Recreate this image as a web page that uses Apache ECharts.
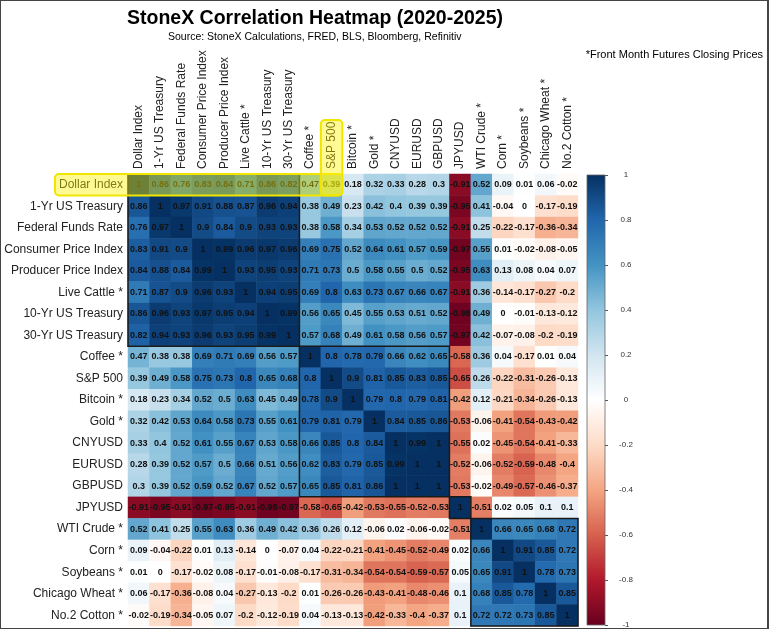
<!DOCTYPE html>
<html>
<head>
<meta charset="utf-8">
<script src="https://cdn.jsdelivr.net/npm/echarts@6/dist/echarts.min.js"></script>
<style>
  html, body { margin: 0; padding: 0; background: #fff; }
  #wrap { position: relative; width: 770px; height: 629px; }
  #chart { width: 770px; height: 629px; }
  #frame { position: absolute; left: 0; top: 0; width: 769px; height: 629px; box-sizing: border-box;
           border: 1px solid #444; border-right-width: 2px; pointer-events: none; }
</style>
</head>
<body>
<div id="wrap"><div id="chart"></div><div id="frame"></div></div>
<script>
// assets, same order on both axes
const labels = ['Dollar Index', '1-Yr US Treasury', 'Federal Funds Rate', 'Consumer Price Index',
  'Producer Price Index', 'Live Cattle *', '10-Yr US Treasury', '30-Yr US Treasury', 'Coffee *',
  'S&P 500', 'Bitcoin *', 'Gold *', 'CNYUSD', 'EURUSD', 'GBPUSD', 'JPYUSD', 'WTI Crude *',
  'Corn *', 'Soybeans *', 'Chicago Wheat *', 'No.2 Cotton *'];

// correlation matrix, one row per asset
const corrRows = [
  [1, 0.86, 0.76, 0.83, 0.84, 0.71, 0.86, 0.82, 0.47, 0.39, 0.18, 0.32, 0.33, 0.28, 0.3, -0.91, 0.52, 0.09, 0.01, 0.06, -0.02],
  [0.86, 1, 0.97, 0.91, 0.88, 0.87, 0.96, 0.94, 0.38, 0.49, 0.23, 0.42, 0.4, 0.39, 0.39, -0.95, 0.41, -0.04, 0, -0.17, -0.19],
  [0.76, 0.97, 1, 0.9, 0.84, 0.9, 0.93, 0.93, 0.38, 0.58, 0.34, 0.53, 0.52, 0.52, 0.52, -0.91, 0.25, -0.22, -0.17, -0.36, -0.34],
  [0.83, 0.91, 0.9, 1, 0.99, 0.96, 0.97, 0.96, 0.69, 0.75, 0.52, 0.64, 0.61, 0.57, 0.59, -0.97, 0.55, 0.01, -0.02, -0.08, -0.05],
  [0.84, 0.88, 0.84, 0.99, 1, 0.93, 0.95, 0.93, 0.71, 0.73, 0.5, 0.58, 0.55, 0.5, 0.52, -0.95, 0.63, 0.13, 0.08, 0.04, 0.07],
  [0.71, 0.87, 0.9, 0.96, 0.93, 1, 0.94, 0.95, 0.69, 0.8, 0.63, 0.73, 0.67, 0.66, 0.67, -0.91, 0.36, -0.14, -0.17, -0.27, -0.2],
  [0.86, 0.96, 0.93, 0.97, 0.95, 0.94, 1, 0.99, 0.56, 0.65, 0.45, 0.55, 0.53, 0.51, 0.52, -0.98, 0.49, 0, -0.01, -0.13, -0.12],
  [0.82, 0.94, 0.93, 0.96, 0.93, 0.95, 0.99, 1, 0.57, 0.68, 0.49, 0.61, 0.58, 0.56, 0.57, -0.97, 0.42, -0.07, -0.08, -0.2, -0.19],
  [0.47, 0.38, 0.38, 0.69, 0.71, 0.69, 0.56, 0.57, 1, 0.8, 0.78, 0.79, 0.66, 0.62, 0.65, -0.58, 0.36, 0.04, -0.17, 0.01, 0.04],
  [0.39, 0.49, 0.58, 0.75, 0.73, 0.8, 0.65, 0.68, 0.8, 1, 0.9, 0.81, 0.85, 0.83, 0.85, -0.65, 0.26, -0.22, -0.31, -0.26, -0.13],
  [0.18, 0.23, 0.34, 0.52, 0.5, 0.63, 0.45, 0.49, 0.78, 0.9, 1, 0.79, 0.8, 0.79, 0.81, -0.42, 0.12, -0.21, -0.34, -0.26, -0.13],
  [0.32, 0.42, 0.53, 0.64, 0.58, 0.73, 0.55, 0.61, 0.79, 0.81, 0.79, 1, 0.84, 0.85, 0.86, -0.53, -0.06, -0.41, -0.54, -0.43, -0.42],
  [0.33, 0.4, 0.52, 0.61, 0.55, 0.67, 0.53, 0.58, 0.66, 0.85, 0.8, 0.84, 1, 0.99, 1, -0.55, 0.02, -0.45, -0.54, -0.41, -0.33],
  [0.28, 0.39, 0.52, 0.57, 0.5, 0.66, 0.51, 0.56, 0.62, 0.83, 0.79, 0.85, 0.99, 1, 1, -0.52, -0.06, -0.52, -0.59, -0.48, -0.4],
  [0.3, 0.39, 0.52, 0.59, 0.52, 0.67, 0.52, 0.57, 0.65, 0.85, 0.81, 0.86, 1, 1, 1, -0.53, -0.02, -0.49, -0.57, -0.46, -0.37],
  [-0.91, -0.95, -0.91, -0.97, -0.95, -0.91, -0.98, -0.97, -0.58, -0.65, -0.42, -0.53, -0.55, -0.52, -0.53, 1, -0.51, 0.02, 0.05, 0.1, 0.1],
  [0.52, 0.41, 0.25, 0.55, 0.63, 0.36, 0.49, 0.42, 0.36, 0.26, 0.12, -0.06, 0.02, -0.06, -0.02, -0.51, 1, 0.66, 0.65, 0.68, 0.72],
  [0.09, -0.04, -0.22, 0.01, 0.13, -0.14, 0, -0.07, 0.04, -0.22, -0.21, -0.41, -0.45, -0.52, -0.49, 0.02, 0.66, 1, 0.91, 0.85, 0.72],
  [0.01, 0, -0.17, -0.02, 0.08, -0.17, -0.01, -0.08, -0.17, -0.31, -0.34, -0.54, -0.54, -0.59, -0.57, 0.05, 0.65, 0.91, 1, 0.78, 0.73],
  [0.06, -0.17, -0.36, -0.08, 0.04, -0.27, -0.13, -0.2, 0.01, -0.26, -0.26, -0.43, -0.41, -0.48, -0.46, 0.1, 0.68, 0.85, 0.78, 1, 0.85],
  [-0.02, -0.19, -0.34, -0.05, 0.07, -0.2, -0.12, -0.19, 0.04, -0.13, -0.13, -0.42, -0.33, -0.4, -0.37, 0.1, 0.72, 0.72, 0.73, 0.85, 1]
];

// hierarchical cluster blocks [first, last] index
const clusters = [[0, 7], [8, 14], [15, 15], [16, 20]];

// RdBu, from -1 to 1
const palette = ['#67001f', '#b2182b', '#d6604d', '#f4a582', '#fddbc7', '#ffffff',
  '#d1e5f0', '#92c5de', '#4393c3', '#2166ac', '#053061'];

const hiRow = 0;   // Dollar Index row highlight
const hiCol = 9;   // S&P 500 column highlight

const cells = [];
corrRows.forEach((row, i) => row.forEach((v, j) => cells.push([j, i, v])));

const chart = echarts.init(document.getElementById('chart'));
const sans = 'Liberation Sans';
const hiFill = 'rgba(255,242,0,0.42)';
const hiStroke = '#f2e600';

chart.setOption({
  animation: false,
  title: [
    { text: 'StoneX Correlation Heatmap (2020-2025)', left: 122, top: 4,
      textStyle: { fontFamily: sans, fontWeight: 'bold', fontSize: 19.5, color: '#000' } },
    { text: 'Source: StoneX Calculations, FRED, BLS, Bloomberg, Refinitiv', left: 163, top: 27,
      textStyle: { fontFamily: sans, fontWeight: 'normal', fontSize: 10.5, color: '#000' } },
    { text: '*Front Month Futures Closing Prices', right: 2, top: 44,
      textStyle: { fontFamily: sans, fontWeight: 'normal', fontSize: 11, color: '#000' } }
  ],
  grid: [
    { left: 128, top: 174, width: 450, height: 452 },
    { left: 587, top: 175, width: 18, height: 452 }
  ],
  xAxis: [
    { type: 'category', data: labels, position: 'top', gridIndex: 0,
      axisLine: { show: false }, axisTick: { show: false }, splitLine: { show: false },
      axisLabel: { rotate: -90, interval: 0, margin: 5, fontSize: 12, color: '#222', fontFamily: sans } },
    { type: 'category', data: [''], gridIndex: 1, show: false }
  ],
  yAxis: [
    { type: 'category', data: labels, inverse: true, gridIndex: 0,
      axisLine: { show: false }, axisTick: { show: false }, splitLine: { show: false },
      axisLabel: { interval: 0, margin: 5, fontSize: 12, color: '#222', fontFamily: sans } },
    { type: 'value', gridIndex: 1, min: -1, max: 1, interval: 0.2, position: 'right',
      axisLine: { show: false }, splitLine: { show: false },
      axisTick: { show: true, length: 3, inside: false, lineStyle: { color: '#555' } },
      axisLabel: { align: 'center', margin: 21, fontSize: 8, color: '#333', fontFamily: sans,
        formatter: v => String(Math.round(v * 10) / 10) } }
  ],
  visualMap: {
    type: 'continuous', min: -1, max: 1, show: false, seriesIndex: 0,
    inRange: { color: palette }
  },
  series: [
    {
      type: 'heatmap', xAxisIndex: 0, yAxisIndex: 0, data: cells,
      itemStyle: { borderWidth: 0 },
      label: { show: true, fontSize: 9, fontWeight: 'bold', color: '#111', fontFamily: sans,
        formatter: p => String(p.value[2]) }
    },
    {
      // cluster outlines
      type: 'custom', xAxisIndex: 0, yAxisIndex: 0, z: 5, silent: true,
      data: clusters,
      renderItem: (params, api) => {
        const a = api.value(0), b = api.value(1);
        const p = api.coord([a, a]);
        const s = api.size([1, 1]);
        const n = b - a + 1;
        return { type: 'rect',
          shape: { x: p[0] - s[0] / 2, y: p[1] - s[1] / 2, width: n * s[0], height: n * s[1] },
          style: { fill: 'none', stroke: '#1a1a1a', lineWidth: 1.5 } };
      }
    },
    {
      // yellow highlights
      type: 'custom', xAxisIndex: 0, yAxisIndex: 0, z: 10, silent: true, clip: false,
      data: [[hiRow, hiCol]],
      renderItem: (params, api) => {
        const r = api.value(0), c = api.value(1);
        const s = api.size([1, 1]);
        const p0 = api.coord([0, r]);
        const pc = api.coord([c, r]);
        const rowBox = { type: 'rect',
          shape: { x: p0[0] - s[0] / 2 - 73, y: p0[1] - s[1] / 2, width: (c + 1) * s[0] + 73, height: s[1], r: 4 },
          style: { fill: hiFill, stroke: hiStroke, lineWidth: 2 } };
        const colBox = { type: 'rect',
          shape: { x: pc[0] - s[0] / 2, y: pc[1] - s[1] / 2 - 54, width: s[0], height: s[1] + 54, r: 4 },
          style: { fill: hiFill, stroke: hiStroke, lineWidth: 2 } };
        return { type: 'group', children: [rowBox, colBox] };
      }
    },
    {
      // colour bar
      type: 'custom', xAxisIndex: 1, yAxisIndex: 1, silent: true,
      data: [[0, -1, 1]],
      renderItem: (params, api) => {
        const top = api.coord([0, api.value(2)]);
        const bot = api.coord([0, api.value(1)]);
        const w = api.size([1, 0])[0];
        const stops = palette.slice().reverse().map((c, i) => ({ offset: i / (palette.length - 1), color: c }));
        return { type: 'rect',
          shape: { x: top[0] - w / 2, y: top[1], width: w, height: bot[1] - top[1] },
          style: { fill: new echarts.graphic.LinearGradient(0, 0, 0, 1, stops), stroke: '#666', lineWidth: 0.8 } };
      }
    }
  ]
});
</script>
</body>
</html>
